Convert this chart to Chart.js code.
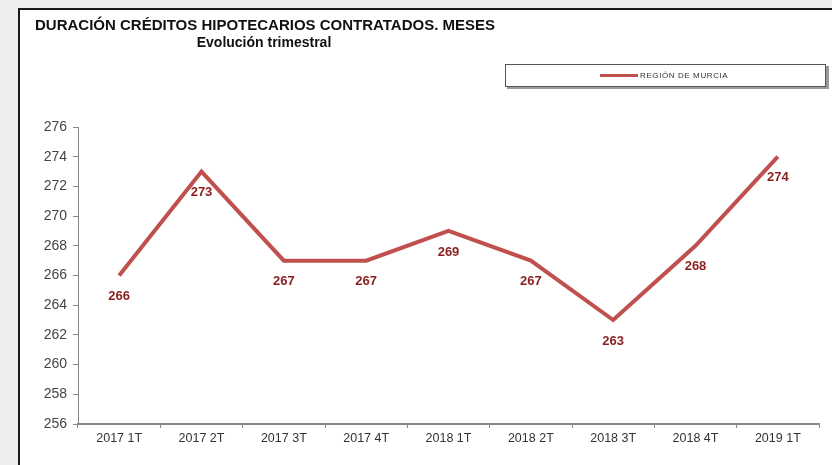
<!DOCTYPE html>
<html>
<head>
<meta charset="utf-8">
<script src="https://cdn.jsdelivr.net/npm/chart.js@4/dist/chart.umd.min.js"></script>
<style>
html,body{margin:0;padding:0;background:#efedeb;}
#wrap{position:relative;width:832px;height:465px;}
</style>
</head>
<body>
<div id="wrap"><canvas id="c" width="832" height="465"></canvas></div>
<script>
const categories = ['2017 1T','2017 2T','2017 3T','2017 4T','2018 1T','2018 2T','2018 3T','2018 4T','2019 1T'];
const murcia = [266, 273, 267, 267, 269, 267, 263, 268, 274];
const yTicks = [256,258,260,262,264,266,268,270,272,274,276];
const titleText = 'DURACIÓN CRÉDITOS HIPOTECARIOS CONTRATADOS. MESES';
const subtitleText = 'Evolución trimestral';
const seriesLabel = 'REGIÓN DE MURCIA';

const frame = {
  id: 'frame',
  beforeDraw(chart) {
    const ctx = chart.ctx;
    ctx.save();
    ctx.fillStyle = '#efedeb';
    ctx.fillRect(0, 0, 832, 465);
    ctx.fillStyle = '#ffffff';
    ctx.fillRect(18, 8, 814, 457);
    ctx.strokeStyle = '#1a1a1a';
    ctx.lineWidth = 2;
    ctx.beginPath();
    ctx.moveTo(19, 465); ctx.lineTo(19, 9); ctx.lineTo(832, 9);
    ctx.stroke();
    // titles
    ctx.fillStyle = '#111';
    ctx.textBaseline = 'alphabetic';
    ctx.textAlign = 'left';
    ctx.font = 'bold 15px "Liberation Sans", Arial, sans-serif';
    ctx.fillText(titleText, 35, 30);
    ctx.textAlign = 'center';
    ctx.font = 'bold 14px "Liberation Sans", Arial, sans-serif';
    ctx.fillText(subtitleText, 264, 47);
    // legend box
    ctx.fillStyle = '#9a9a9a';
    ctx.fillRect(507, 66, 322, 23);
    ctx.fillStyle = '#ffffff';
    ctx.fillRect(505, 64, 321, 23);
    ctx.strokeStyle = '#555';
    ctx.lineWidth = 1;
    ctx.strokeRect(505.5, 64.5, 320, 22);
    ctx.strokeStyle = '#c0504d';
    ctx.lineWidth = 3;
    ctx.beginPath(); ctx.moveTo(600, 75.5); ctx.lineTo(638, 75.5); ctx.stroke();
    ctx.fillStyle = '#333';
    ctx.textAlign = 'left';
    ctx.textBaseline = 'middle';
    ctx.font = '8px "Liberation Sans", Arial, sans-serif';
    if ('letterSpacing' in ctx) ctx.letterSpacing = '0.6px';
    ctx.fillText(seriesLabel, 640, 76);
    ctx.restore();
  }
};

const valueLabels = {
  id: 'valueLabels',
  afterDatasetsDraw(chart) {
    const ctx = chart.ctx;
    const meta = chart.getDatasetMeta(0);
    ctx.save();
    ctx.fillStyle = '#8a1f1f';
    ctx.font = 'bold 13px "Liberation Sans", Arial, sans-serif';
    ctx.textAlign = 'center';
    ctx.textBaseline = 'middle';
    meta.data.forEach((pt, i) => {
      ctx.fillText(String(murcia[i]), pt.x, pt.y + 21);
    });
    ctx.restore();
  }
};

new Chart(document.getElementById('c'), {
  type: 'line',
  data: {
    labels: categories,
    datasets: [{
      label: seriesLabel,
      data: murcia,
      borderColor: '#c0504d',
      borderWidth: 4,
      pointRadius: 0,
      tension: 0,
      fill: false
    }]
  },
  options: {
    responsive: false,
    animation: false,
    layout: { padding: { left: 0, right: 13, top: 127, bottom: 10 } },
    plugins: { legend: { display: false }, title: { display: false }, tooltip: { enabled: false } },
    scales: {
      x: {
        offset: true,
        grid: { display: true, drawOnChartArea: false, offset: true, tickLength: 4, color: '#888' },
        border: { color: '#888', width: 2 },
        ticks: { color: '#333', font: { family: '"Liberation Sans", Arial, sans-serif', size: 12.5 }, padding: 3, maxRotation: 0, autoSkip: false },
        afterFit(s) { s.height = 31; }
      },
      y: {
        min: 256, max: 276,
        afterBuildTicks(s) { s.ticks = yTicks.map(v => ({ value: v })); },
        grid: { display: true, drawOnChartArea: false, tickLength: 5, color: '#888' },
        border: { color: '#888', width: 1 },
        ticks: { color: '#444', font: { family: '"Liberation Sans", Arial, sans-serif', size: 14 }, padding: 6 },
        afterFit(s) { s.width = 78; }
      }
    }
  },
  plugins: [frame, valueLabels]
});
</script>
</body>
</html>
